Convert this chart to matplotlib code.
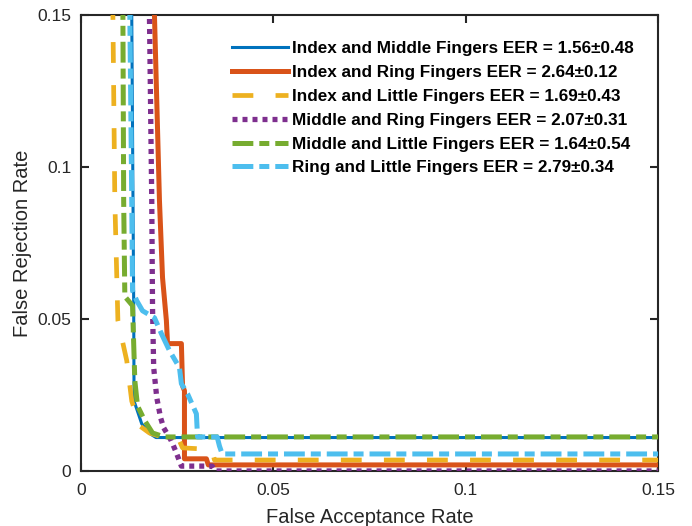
import numpy as np
import matplotlib.pyplot as plt

plt.rcParams['lines.scale_dashes'] = False
plt.rcParams['font.family'] = ['Liberation Sans', 'DejaVu Sans']

# ROC-like curves (FAR, FRR)
labels = [
    'Index and Middle Fingers EER = 1.56\u00b10.48',
    'Index and Ring Fingers EER = 2.64\u00b10.12',
    'Index and Little Fingers EER = 1.69\u00b10.43',
    'Middle and Ring Fingers EER = 2.07\u00b10.31',
    'Middle and Little Fingers EER = 1.64\u00b10.54',
    'Ring and Little Fingers EER = 2.79\u00b10.34',
]

far_im = [0.0131, 0.0132, 0.0137, 0.0138, 0.0158, 0.0180, 0.0195, 0.15]
frr_im = [0.20, 0.15, 0.056, 0.023, 0.0155, 0.0122, 0.0110, 0.0110]

far_ir = [0.0188, 0.0191, 0.0204, 0.0212, 0.0222, 0.0225, 0.0261, 0.0264, 0.0269, 0.0269, 0.0326, 0.0331, 0.15]
frr_ir = [0.20, 0.15, 0.089, 0.0636, 0.0495, 0.0419, 0.0419, 0.028, 0.0264, 0.004, 0.004, 0.002, 0.002]

far_il = [0.0082, 0.0083, 0.0088, 0.0096, 0.0119, 0.0132, 0.0153, 0.0178, 0.0217, 0.0256, 0.0264, 0.0308, 0.0341, 0.0347, 0.15]
frr_il = [0.20, 0.15, 0.089, 0.0495, 0.0363, 0.023, 0.0148, 0.0125, 0.0109, 0.0099, 0.0076, 0.0073, 0.0066, 0.0036, 0.0036]

far_mr = [0.0177, 0.0178, 0.0184, 0.0186, 0.0189, 0.0197, 0.0207, 0.0215, 0.0235, 0.0246, 0.0261, 0.0341, 0.0349, 0.15]
frr_mr = [0.20, 0.15, 0.089, 0.0537, 0.034, 0.0241, 0.0175, 0.0142, 0.0099, 0.0066, 0.0016, 0.0016, 0.0, 0.0]

far_ml = [0.0108, 0.0109, 0.0111, 0.0114, 0.0134, 0.0140, 0.0147, 0.0166, 0.0186, 0.0217, 0.15]
frr_ml = [0.20, 0.15, 0.089, 0.0574, 0.0544, 0.0297, 0.0214, 0.0165, 0.0125, 0.0112, 0.0112]

far_rl = [0.0126, 0.0127, 0.0132, 0.0134, 0.0145, 0.0160, 0.0191, 0.0209, 0.0230, 0.0256, 0.0261, 0.0277, 0.0300, 0.0303, 0.0354, 0.0360, 0.0367, 0.15]
frr_rl = [0.20, 0.15, 0.089, 0.0593, 0.056, 0.0527, 0.0504, 0.0452, 0.0396, 0.034, 0.0287, 0.0254, 0.0188, 0.0112, 0.0112, 0.0082, 0.0056, 0.0056]

ticks = [0, 0.05, 0.1, 0.15]
tick_labels = ['0', '0.05', '0.1', '0.15']

fig = plt.figure(figsize=(6.92, 5.26), dpi=100)
ax = fig.add_axes([0.117, 0.1046, 0.834, 0.8669])

ax.plot(far_im, frr_im, color='#0072BD', lw=2.2, zorder=3, label=labels[0])
ax.plot(far_ir, frr_ir, color='#D95319', lw=3.6, zorder=3, label=labels[1])
ax.plot(far_il, frr_il, color='#EDB120', lw=3.4, zorder=3, dashes=(15, 16), label=labels[2])
ax.plot(far_mr, frr_mr, color='#7E2F8E', lw=3.8, zorder=3, dashes=(3.6, 3.6), label=labels[3])
ax.plot(far_ml, frr_ml, color='#77AC30', lw=3.6, zorder=3, dashes=(15, 4.3, 7.2, 4.3), label=labels[4])
ax.plot(far_rl, frr_rl, color='#4DBEEE', lw=3.6, zorder=3, dashes=(15, 4.3, 7.2, 4.3), label=labels[5])

ax.set_xlim(0, 0.15)
ax.set_ylim(0, 0.15)
ax.set_xticks(ticks)
ax.set_xticklabels(tick_labels)
ax.set_yticks(ticks)
ax.set_yticklabels(tick_labels)
ax.tick_params(direction='in', top=True, right=True, length=6, width=1.5,
               labelsize=12.5, colors='#262626')
ax.tick_params(axis='x', pad=9)
ax.tick_params(axis='y', pad=7)
for s in ax.spines.values():
    s.set_linewidth(1.5)
    s.set_color('#262626')

ax.set_xlabel('False Acceptance Rate', fontsize=14.5, color='#262626', labelpad=7)
ax.set_ylabel('False Rejection Rate', fontsize=14.5, color='#262626', labelpad=4)

leg = ax.legend(loc='upper left', bbox_to_anchor=(0.262, 0.943), frameon=False,
                borderpad=0, borderaxespad=0, handlelength=3.25, handletextpad=0.25,
                labelspacing=0.52, prop={'family': 'Liberation Sans', 'weight': 'bold', 'size': 12.3})

fig.savefig('out.png', dpi=100)
